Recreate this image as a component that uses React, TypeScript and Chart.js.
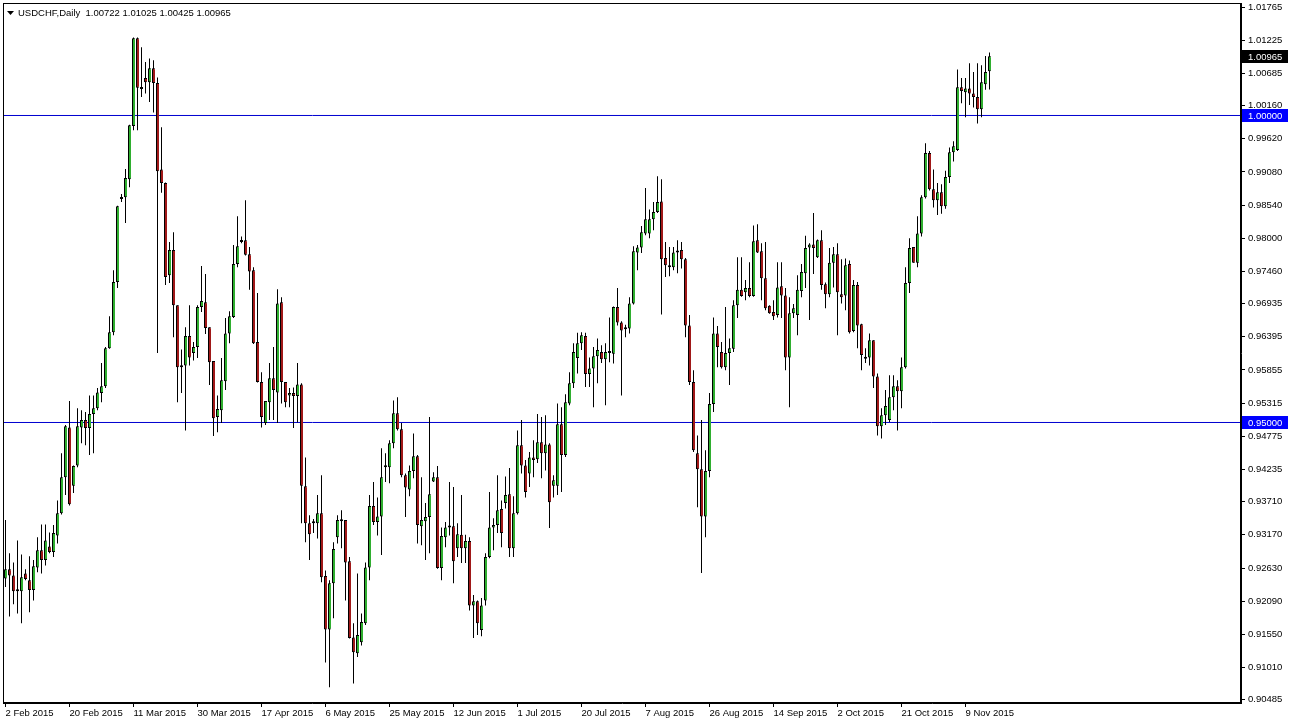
import React, { useEffect, useRef } from 'react';
import { Chart, registerables } from 'chart.js';

Chart.register(...registerables);

const symbolTitle = 'USDCHF,Daily';

const tickBars = [0, 16, 32, 48, 64, 80, 96, 112, 128, 144, 160, 176, 192, 208, 224, 240];
const tickLabels = ['2 Feb 2015', '20 Feb 2015', '11 Mar 2015', '30 Mar 2015', '17 Apr 2015', '6 May 2015', '25 May 2015', '12 Jun 2015', '1 Jul 2015', '20 Jul 2015', '7 Aug 2015', '26 Aug 2015', '14 Sep 2015', '2 Oct 2015', '21 Oct 2015', '9 Nov 2015'];

const priceTicks = [1.01765, 1.01225, 1.00685, 1.0016, 0.9962, 0.9908, 0.9854, 0.98, 0.9746, 0.96935, 0.96395, 0.95855, 0.95315, 0.94775, 0.94235, 0.9371, 0.9317, 0.9263, 0.9209, 0.9155, 0.9101, 0.90485];

const levels = [1.0, 0.95];

const open = [
  0.9246, 0.9261, 0.9251, 0.9225, 0.9225, 0.9254, 0.9243, 0.9227, 0.9264, 0.9292,
  0.9276, 0.9298, 0.9289, 0.9316, 0.9352, 0.9411, 0.9492, 0.9397, 0.9430, 0.9492,
  0.9504, 0.9491, 0.9514, 0.9523, 0.9548, 0.9559, 0.9621, 0.9647, 0.9729, 0.9864,
  0.9867, 0.9896, 0.9983, 1.0126, 1.0045, 1.0061, 1.0054, 1.0077, 1.0053, 0.9912,
  0.9890, 0.9740, 0.9781, 0.9691, 0.9590, 0.9593, 0.9641, 0.9613, 0.9623, 0.9688,
  0.9696, 0.9655, 0.9600, 0.9509, 0.9520, 0.9567, 0.9645, 0.9672, 0.9758, 0.9794,
  0.9797, 0.9774, 0.9748, 0.9631, 0.9566, 0.9499, 0.9533, 0.9572, 0.9549, 0.9696,
  0.9566, 0.9544, 0.9548, 0.9543, 0.9562, 0.9396, 0.9336, 0.9336, 0.9336, 0.9352,
  0.9250, 0.9163, 0.9238, 0.9313, 0.9341, 0.9341, 0.9274, 0.9150, 0.9124, 0.9142,
  0.9173, 0.9264, 0.9364, 0.9338, 0.9347, 0.9427, 0.9427, 0.9466, 0.9515, 0.9489,
  0.9414, 0.9391, 0.9421, 0.9445, 0.9331, 0.9339, 0.9346, 0.9404, 0.9411, 0.9263,
  0.9313, 0.9331, 0.9331, 0.9295, 0.9317, 0.9295, 0.9307, 0.9202, 0.9209, 0.9162,
  0.9210, 0.9281, 0.9329, 0.9333, 0.9359, 0.9369, 0.9383, 0.9295, 0.9352, 0.9463,
  0.9430, 0.9417, 0.9443, 0.9440, 0.9468, 0.9450, 0.9464, 0.9397, 0.9397, 0.9497,
  0.9447, 0.9531, 0.9564, 0.9605, 0.9629, 0.9641, 0.9579, 0.9588, 0.9608, 0.9615,
  0.9603, 0.9614, 0.9612, 0.9688, 0.9663, 0.9652, 0.9653, 0.9694, 0.9777, 0.9785,
  0.9808, 0.9808, 0.9831, 0.9843, 0.9860, 0.9768, 0.9756, 0.9753, 0.9777, 0.9781,
  0.9766, 0.9658, 0.9566, 0.9450, 0.9424, 0.9347, 0.9421, 0.9530, 0.9645, 0.9615,
  0.9590, 0.9613, 0.9620, 0.9691, 0.9716, 0.9712, 0.9719, 0.9706, 0.9797, 0.9779,
  0.9735, 0.9690, 0.9680, 0.9675, 0.9722, 0.9707, 0.9606, 0.9678, 0.9675, 0.9714,
  0.9743, 0.9785, 0.9790, 0.9769, 0.9797, 0.9725, 0.9709, 0.9760, 0.9774, 0.9709,
  0.9707, 0.9758, 0.9649, 0.9724, 0.9660, 0.9606, 0.9606, 0.9634, 0.9575, 0.9494,
  0.9512, 0.9504, 0.9541, 0.9559, 0.9551, 0.9590, 0.9727, 0.9786, 0.9760, 0.9808,
  0.9867, 0.9939, 0.9880, 0.9862, 0.9875, 0.9852, 0.9900, 0.9940, 0.9944, 1.0046,
  1.0038, 1.0044, 1.0036, 1.0030, 1.0010, 1.0051, 1.00722
];

const high = [
  0.9341, 0.9287, 0.9272, 0.9308, 0.9285, 0.9261, 0.9282, 0.9276, 0.9313, 0.9334,
  0.9334, 0.9321, 0.9333, 0.9373, 0.9450, 0.9496, 0.9535, 0.9430, 0.9523, 0.9520,
  0.9517, 0.9544, 0.9544, 0.9556, 0.9597, 0.9623, 0.9673, 0.9748, 0.9853, 0.9872,
  0.9913, 0.9985, 1.0127, 1.0127, 1.0111, 1.0087, 1.0093, 1.0090, 1.0062, 0.9981,
  0.9891, 0.9794, 0.9810, 0.9691, 0.9619, 0.9655, 0.9691, 0.9631, 0.9691, 0.9755,
  0.9742, 0.9655, 0.9600, 0.9544, 0.9605, 0.9670, 0.9681, 0.9789, 0.9836, 0.9803,
  0.9862, 0.9786, 0.9753, 0.9711, 0.9582, 0.9535, 0.9597, 0.9623, 0.9717, 0.9704,
  0.9566, 0.9556, 0.9557, 0.9597, 0.9564, 0.9443, 0.9349, 0.9343, 0.9382, 0.9414,
  0.9259, 0.9243, 0.9305, 0.9349, 0.9357, 0.9341, 0.9281, 0.9173, 0.9254, 0.9189,
  0.9272, 0.9382, 0.9403, 0.9378, 0.9458, 0.9450, 0.9471, 0.9536, 0.9541, 0.9499,
  0.9417, 0.9430, 0.9482, 0.9447, 0.9411, 0.9369, 0.9509, 0.9419, 0.9429, 0.9329,
  0.9338, 0.9403, 0.9395, 0.9336, 0.9382, 0.9317, 0.9313, 0.9219, 0.9210, 0.9214,
  0.9287, 0.9387, 0.9344, 0.9414, 0.9373, 0.9412, 0.9426, 0.9380, 0.9487, 0.9504,
  0.9439, 0.9452, 0.9471, 0.9514, 0.9509, 0.9512, 0.9466, 0.9414, 0.9531, 0.9525,
  0.9546, 0.9582, 0.9629, 0.9646, 0.9647, 0.9646, 0.9606, 0.9623, 0.9637, 0.9626,
  0.9629, 0.9671, 0.9689, 0.9719, 0.9665, 0.9659, 0.9704, 0.9787, 0.9789, 0.9820,
  0.9882, 0.9847, 0.9859, 0.9901, 0.9896, 0.9794, 0.9786, 0.9786, 0.9797, 0.9794,
  0.9768, 0.9675, 0.9585, 0.9479, 0.9504, 0.9455, 0.9548, 0.9671, 0.9657, 0.9631,
  0.9688, 0.9637, 0.9699, 0.9769, 0.9769, 0.9732, 0.9761, 0.9821, 0.9823, 0.9792,
  0.9794, 0.9691, 0.9699, 0.9761, 0.9761, 0.9719, 0.9704, 0.9693, 0.9740, 0.9758,
  0.9804, 0.9792, 0.9841, 0.9798, 0.9813, 0.9728, 0.9784, 0.9786, 0.9792, 0.9766,
  0.9767, 0.9764, 0.9732, 0.9729, 0.9661, 0.9621, 0.9645, 0.9634, 0.9580, 0.9523,
  0.9553, 0.9577, 0.9577, 0.9569, 0.9606, 0.9753, 0.9800, 0.9786, 0.9836, 0.9870,
  0.9955, 0.9942, 0.9912, 0.9890, 0.9888, 0.9910, 0.9948, 0.9958, 1.0075, 1.0061,
  1.0061, 1.0085, 1.0071, 1.0085, 1.0082, 1.0097, 1.01025
];

const low = [
  0.9232, 0.9184, 0.9204, 0.9189, 0.9173, 0.9243, 0.9191, 0.9210, 0.9256, 0.9254,
  0.9267, 0.9287, 0.9281, 0.9303, 0.9350, 0.9382, 0.9365, 0.9385, 0.9427, 0.9466,
  0.9463, 0.9447, 0.9450, 0.9520, 0.9533, 0.9556, 0.9620, 0.9642, 0.9719, 0.9859,
  0.9825, 0.9883, 0.9976, 0.9976, 1.0030, 1.0036, 1.0022, 1.0005, 0.9613, 0.9874,
  0.9724, 0.9727, 0.9639, 0.9533, 0.9548, 0.9487, 0.9593, 0.9601, 0.9605, 0.9680,
  0.9644, 0.9561, 0.9478, 0.9484, 0.9499, 0.9553, 0.9629, 0.9670, 0.9753, 0.9792,
  0.9772, 0.9716, 0.9628, 0.9565, 0.9492, 0.9496, 0.9504, 0.9504, 0.9499, 0.9531,
  0.9525, 0.9525, 0.9491, 0.9500, 0.9336, 0.9305, 0.9276, 0.9320, 0.9311, 0.9240,
  0.9109, 0.9069, 0.9181, 0.9303, 0.9295, 0.9210, 0.9148, 0.9075, 0.9118, 0.9137,
  0.9170, 0.9243, 0.9333, 0.9316, 0.9284, 0.9403, 0.9401, 0.9458, 0.9487, 0.9411,
  0.9346, 0.9380, 0.9409, 0.9303, 0.9300, 0.9276, 0.9287, 0.9403, 0.9262, 0.9243,
  0.9297, 0.9316, 0.9238, 0.9281, 0.9271, 0.9271, 0.9194, 0.9149, 0.9154, 0.9152,
  0.9202, 0.9279, 0.9292, 0.9320, 0.9297, 0.9360, 0.9281, 0.9281, 0.9350, 0.9417,
  0.9378, 0.9395, 0.9411, 0.9434, 0.9409, 0.9422, 0.9328, 0.9378, 0.9382, 0.9387,
  0.9444, 0.9528, 0.9556, 0.9580, 0.9618, 0.9558, 0.9558, 0.9525, 0.9564, 0.9597,
  0.9528, 0.9598, 0.9596, 0.9658, 0.9544, 0.9639, 0.9645, 0.9692, 0.9748, 0.9776,
  0.9805, 0.9800, 0.9813, 0.9841, 0.9676, 0.9737, 0.9738, 0.9748, 0.9743, 0.9751,
  0.9639, 0.9561, 0.9452, 0.9362, 0.9255, 0.9313, 0.9411, 0.9517, 0.9590, 0.9588,
  0.9585, 0.9561, 0.9615, 0.9670, 0.9705, 0.9699, 0.9704, 0.9705, 0.9776, 0.9699,
  0.9683, 0.9677, 0.9667, 0.9671, 0.9670, 0.9585, 0.9525, 0.9670, 0.9642, 0.9704,
  0.9719, 0.9667, 0.9742, 0.9768, 0.9716, 0.9686, 0.9704, 0.9720, 0.9642, 0.9694,
  0.9683, 0.9645, 0.9647, 0.9621, 0.9585, 0.9597, 0.9593, 0.9556, 0.9479, 0.9474,
  0.9496, 0.9501, 0.9520, 0.9487, 0.9523, 0.9588, 0.9711, 0.9760, 0.9753, 0.9803,
  0.9865, 0.9878, 0.9850, 0.9838, 0.9840, 0.9848, 0.9890, 0.9925, 0.9942, 1.0020,
  0.9997, 1.0017, 1.0013, 0.9987, 0.9997, 1.0042, 1.00425
];

const close = [
  0.9261, 0.9251, 0.9225, 0.9228, 0.9248, 0.9245, 0.9227, 0.9266, 0.9292, 0.9276,
  0.9308, 0.9289, 0.9320, 0.9352, 0.9411, 0.9494, 0.9367, 0.9429, 0.9494, 0.9504,
  0.9491, 0.9514, 0.9523, 0.9549, 0.9559, 0.9621, 0.9647, 0.9729, 0.9852, 0.9867,
  0.9898, 0.9984, 1.0126, 1.0045, 1.0043, 1.0054, 1.0077, 1.0053, 0.9909, 0.9890,
  0.9737, 0.9781, 0.9691, 0.9590, 0.9593, 0.9641, 0.9606, 0.9623, 0.9688, 0.9698,
  0.9654, 0.9598, 0.9507, 0.9522, 0.9569, 0.9645, 0.9673, 0.9758, 0.9787, 0.9797,
  0.9773, 0.9746, 0.9629, 0.9566, 0.9509, 0.9535, 0.9572, 0.9553, 0.9694, 0.9566,
  0.9533, 0.9548, 0.9543, 0.9562, 0.9397, 0.9336, 0.9318, 0.9338, 0.9352, 0.9248,
  0.9163, 0.9238, 0.9294, 0.9341, 0.9339, 0.9272, 0.9149, 0.9126, 0.9154, 0.9175,
  0.9264, 0.9364, 0.9338, 0.9347, 0.9411, 0.9430, 0.9466, 0.9515, 0.9489, 0.9414,
  0.9394, 0.9421, 0.9445, 0.9333, 0.9341, 0.9346, 0.9383, 0.9411, 0.9263, 0.9315,
  0.9329, 0.9329, 0.9274, 0.9318, 0.9295, 0.9307, 0.9202, 0.9209, 0.9173, 0.9202,
  0.9281, 0.9329, 0.9333, 0.9357, 0.9320, 0.9382, 0.9295, 0.9352, 0.9463, 0.9430,
  0.9387, 0.9443, 0.9439, 0.9468, 0.9450, 0.9464, 0.9370, 0.9406, 0.9497, 0.9447,
  0.9533, 0.9564, 0.9615, 0.9629, 0.9642, 0.9579, 0.9588, 0.9608, 0.9618, 0.9603,
  0.9615, 0.9613, 0.9688, 0.9663, 0.9650, 0.9654, 0.9694, 0.9779, 0.9785, 0.9810,
  0.9831, 0.9831, 0.9843, 0.9859, 0.9766, 0.9756, 0.9753, 0.9777, 0.9779, 0.9766,
  0.9658, 0.9566, 0.9455, 0.9424, 0.9347, 0.9421, 0.9530, 0.9645, 0.9623, 0.9590,
  0.9613, 0.9621, 0.9691, 0.9716, 0.9706, 0.9719, 0.9706, 0.9795, 0.9777, 0.9735,
  0.9686, 0.9678, 0.9673, 0.9720, 0.9707, 0.9606, 0.9678, 0.9686, 0.9716, 0.9745,
  0.9784, 0.9790, 0.9784, 0.9797, 0.9724, 0.9709, 0.9760, 0.9774, 0.9712, 0.9704,
  0.9756, 0.9647, 0.9724, 0.9658, 0.9610, 0.9604, 0.9634, 0.9575, 0.9494, 0.9512,
  0.9527, 0.9541, 0.9559, 0.9551, 0.9590, 0.9727, 0.9784, 0.9760, 0.9808, 0.9867,
  0.9939, 0.9880, 0.9862, 0.9875, 0.9852, 0.9900, 0.9940, 0.9950, 1.0046, 1.0040,
  1.0044, 1.0036, 1.0030, 1.0010, 1.0054, 1.0071, 1.00965
];

const FONT = "'Liberation Sans', Arial, sans-serif";
const BULL = '#2fae2f';
const BEAR = '#a01818';
const LEVEL_BLUE = '#0000ff';
const LINE_BLUE = '#0000d0';

const X_MIN = -0.625;
const X_MAX = 308.875;
const Y_MAX = 1.018322;
const Y_MIN = 0.904315;

const overlayPlugin = {
  id: 'mt4Overlay',
  beforeDraw(chart: any) {
    const { ctx, width, height } = chart;
    ctx.save();
    ctx.fillStyle = '#ffffff';
    ctx.fillRect(0, 0, width, height);
    ctx.restore();
  },
  afterDraw(chart: any) {
    const { ctx, chartArea: a, scales } = chart;
    const ys = scales.y;
    ctx.save();
    ctx.strokeStyle = '#000000';
    ctx.lineWidth = 1;
    ctx.strokeRect(a.left + 0.5, a.top + 0.5, a.right - a.left - 1, a.bottom - a.top - 1);

    ctx.fillStyle = '#000000';
    ctx.beginPath();
    ctx.moveTo(a.left + 4, a.top + 8);
    ctx.lineTo(a.left + 11, a.top + 8);
    ctx.lineTo(a.left + 7.5, a.top + 12);
    ctx.closePath();
    ctx.fill();

    const last = open.length - 1;
    ctx.font = `9.5px ${FONT}`;
    ctx.textAlign = 'left';
    ctx.textBaseline = 'middle';
    ctx.fillText(
      `${symbolTitle}  ${open[last].toFixed(5)} ${high[last].toFixed(5)} ${low[last].toFixed(5)} ${close[last].toFixed(5)}`,
      a.left + 15,
      a.top + 10
    );

    const box = (val: number, bg: string) => {
      const py = Math.round(ys.getPixelForValue(val));
      ctx.fillStyle = bg;
      ctx.fillRect(a.right + 1, py - 6, 46, 13);
      ctx.fillStyle = '#ffffff';
      ctx.font = `9.5px ${FONT}`;
      ctx.fillText(val.toFixed(5), a.right + 7, py + 1);
    };
    levels.forEach((v) => box(v, LEVEL_BLUE));
    box(close[last], '#000000');
    ctx.restore();
  },
};

export default function App() {
  const ref = useRef<HTMLCanvasElement>(null);

  useEffect(() => {
    document.body.style.margin = '0';
    const canvas = ref.current;
    if (!canvas) return;

    const bodies = open.map((o, i) => ({ x: i, y: [o, close[i]] }));
    const wicks = high.map((h, i) => ({ x: i, y: [low[i], h] }));
    const bodyColors = open.map((o, i) => (close[i] >= o ? BULL : BEAR));

    const levelSets = levels.map((lv) => ({
      type: 'line' as const,
      data: [
        { x: X_MIN, y: lv },
        { x: X_MAX, y: lv },
      ],
      borderColor: LINE_BLUE,
      borderWidth: 1,
      pointRadius: 0,
      fill: false,
      tension: 0,
      order: 5,
    }));

    const chart = new Chart(canvas, {
      type: 'bar',
      data: {
        datasets: [
          {
            type: 'bar',
            data: bodies as any,
            backgroundColor: bodyColors,
            borderColor: '#000000',
            borderWidth: { left: 1, right: 0, top: 1, bottom: 1 },
            borderSkipped: false,
            grouped: false,
            barPercentage: 0.75,
            categoryPercentage: 1,
            maxBarThickness: 3,
            minBarLength: 2,
            inflateAmount: 0,
            order: 1,
          } as any,
          {
            type: 'bar',
            data: wicks as any,
            backgroundColor: '#000000',
            borderWidth: 0,
            grouped: false,
            barPercentage: 0.25,
            categoryPercentage: 1,
            maxBarThickness: 1,
            inflateAmount: 0,
            order: 2,
          } as any,
          ...(levelSets as any[]),
        ],
      },
      options: {
        animation: false,
        responsive: false,
        devicePixelRatio: 1,
        layout: { padding: { left: 3, top: 3, right: 0, bottom: 0 } },
        plugins: {
          legend: { display: false },
          tooltip: { enabled: false },
        },
        scales: {
          x: {
            type: 'linear',
            min: X_MIN,
            max: X_MAX,
            offset: false,
            afterBuildTicks: (s: any) => {
              s.ticks = tickBars.map((v) => ({ value: v }));
            },
            afterFit: (s: any) => {
              s.height = 20;
              s.paddingLeft = 0;
              s.paddingRight = 0;
            },
            ticks: {
              autoSkip: false,
              maxRotation: 0,
              align: 'start',
              padding: 1,
              color: '#000000',
              font: { family: FONT, size: 9.5 },
              callback: (v: any) => {
                const k = tickBars.indexOf(Number(v));
                return k >= 0 ? tickLabels[k] : '';
              },
            },
            grid: { display: true, drawOnChartArea: false, drawTicks: true, tickLength: 4, color: '#000000', offset: false },
            border: { display: true, color: '#000000' },
          },
          y: {
            type: 'linear',
            position: 'right',
            min: Y_MIN,
            max: Y_MAX,
            afterBuildTicks: (s: any) => {
              s.ticks = priceTicks.map((v) => ({ value: v }));
            },
            afterFit: (s: any) => {
              s.width = 48;
              s.paddingTop = 0;
              s.paddingBottom = 0;
            },
            ticks: {
              autoSkip: false,
              padding: 3,
              color: '#000000',
              font: { family: FONT, size: 9.5 },
              callback: (v: any) => Number(v).toFixed(5),
            },
            grid: { display: true, drawOnChartArea: false, drawTicks: true, tickLength: 4, color: '#000000' },
            border: { display: true, color: '#000000' },
          },
        },
      },
      plugins: [overlayPlugin],
    } as any);

    return () => chart.destroy();
  }, []);

  return <canvas ref={ref} width={1289} height={723} style={{ display: 'block' }} />;
}
